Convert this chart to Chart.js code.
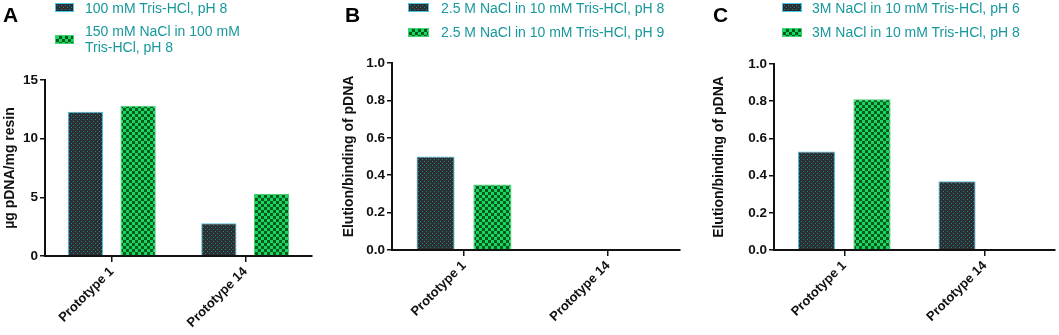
<!DOCTYPE html>
<html>
<head>
<meta charset="utf-8">
<script src="https://cdn.jsdelivr.net/npm/chart.js@4/dist/chart.umd.min.js"></script>
<style>
  body { margin: 0; background: #fff; }
  #wrap { position: relative; width: 1059px; height: 335px; overflow: hidden; font-family: "Liberation Sans", Arial, sans-serif; }
  canvas.chart { position: absolute; top: 0; }
  .letter { position: absolute; font-size: 21px; line-height: 21px; font-weight: bold; color: #000; }
  .sw { position: absolute; height: 9px; box-sizing: border-box; border: 1px solid; }
  .lt { position: absolute; font-size: 14px; line-height: 16px; color: #17989c; white-space: nowrap; }
</style>
</head>
<body>
<div id="wrap">
  <canvas class="chart" id="chartA" width="335" height="335" style="left:0"></canvas>
  <canvas class="chart" id="chartB" width="360" height="335" style="left:335px"></canvas>
  <canvas class="chart" id="chartC" width="359" height="335" style="left:700px"></canvas>

  <div class="letter" style="left:3px;top:4px">A</div>
  <div class="letter" style="left:345px;top:4px">B</div>
  <div class="letter" style="left:713px;top:4px">C</div>

  <div class="sw dark" style="left:55px;top:3px;width:19px"></div>
  <div class="lt" id="legA1" style="left:85px;top:0px"></div>
  <div class="sw green" style="left:55px;top:35px;width:19px"></div>
  <div class="lt" id="legA2" style="left:85px;top:23px"></div>

  <div class="sw dark" style="left:408px;top:3px;width:21px"></div>
  <div class="lt" id="legB1" style="left:441px;top:0px"></div>
  <div class="sw green" style="left:408px;top:28px;width:21px"></div>
  <div class="lt" id="legB2" style="left:441px;top:24px"></div>

  <div class="sw dark" style="left:782px;top:3px;width:20px"></div>
  <div class="lt" id="legC1" style="left:812px;top:0px"></div>
  <div class="sw green" style="left:782px;top:28px;width:20px"></div>
  <div class="lt" id="legC2" style="left:812px;top:24px"></div>
</div>
<script>
// data
const categories = ["Prototype 1", "Prototype 14"];

const seriesA1 = [12.3, 2.8];
const seriesA2 = [12.8, 5.3];
const seriesB1 = [0.50, 0];
const seriesB2 = [0.35, 0];
const seriesC1 = [0.53, 0.37];
const seriesC2 = [0.81, 0];

const legendA = ["100 mM Tris-HCl, pH 8", "150 mM NaCl in 100 mM<br>Tris-HCl, pH 8"];
const legendB = ["2.5 M NaCl in 10 mM Tris-HCl, pH 8", "2.5 M NaCl in 10 mM Tris-HCl, pH 9"];
const legendC = ["3M NaCl in 10 mM Tris-HCl, pH 6", "3M NaCl in 10 mM Tris-HCl, pH 8"];

const ticksA = [0, 5, 10, 15];
const ticksBC = [0, 0.2, 0.4, 0.6, 0.8, 1.0];

const FONT = '"Liberation Sans", Arial, sans-serif';

// patterns (dotted dark + green checker)
function makeTile(kind) {
    const c = document.createElement("canvas");
    if (kind === "dark") {
        c.width = 4; c.height = 4;
        const g = c.getContext("2d");
        g.fillStyle = "#2c2e30";
        g.fillRect(0, 0, 4, 4);
        g.fillStyle = "#1a8796";
        g.fillRect(1, 1, 1, 1);
        g.fillRect(3, 3, 1, 1);
    } else {
        c.width = 6; c.height = 6;
        const g = c.getContext("2d");
        g.fillStyle = "#0a5a20";
        g.fillRect(0, 0, 6, 6);
        g.fillStyle = "#16d860";
        g.fillRect(0, 0, 3, 3);
        g.fillRect(3, 3, 3, 3);
    }
    return c;
}
const darkTile = makeTile("dark");
const greenTile = makeTile("green");
const tmp = document.createElement("canvas").getContext("2d");
const darkPattern = tmp.createPattern(darkTile, "repeat");
const greenPattern = tmp.createPattern(greenTile, "repeat");

document.querySelectorAll(".sw.dark").forEach((el) => {
    el.style.backgroundImage = "url(" + darkTile.toDataURL() + ")";
    el.style.borderColor = "#45c6e6";
});
document.querySelectorAll(".sw.green").forEach((el) => {
    el.style.backgroundImage = "url(" + greenTile.toDataURL() + ")";
    el.style.borderColor = "#3ed36e";
});

document.getElementById("legA1").innerHTML = legendA[0];
document.getElementById("legA2").innerHTML = legendA[1];
document.getElementById("legB1").innerHTML = legendB[0];
document.getElementById("legB2").innerHTML = legendB[1];
document.getElementById("legC1").innerHTML = legendC[0];
document.getElementById("legC2").innerHTML = legendC[1];

function makeChart(id, s1, s2, cfg) {
    const ctx = document.getElementById(id).getContext("2d");
    return new Chart(ctx, {
        type: "bar",
        data: {
            labels: categories,
            datasets: [
                {
                    data: s1,
                    backgroundColor: darkPattern,
                    borderColor: "#45c6e6",
                    borderWidth: 1,
                    categoryPercentage: 0.79,
                    barPercentage: 0.67,
                },
                {
                    data: s2,
                    backgroundColor: greenPattern,
                    borderColor: "#3ed36e",
                    borderWidth: 1,
                    categoryPercentage: 0.79,
                    barPercentage: 0.67,
                },
            ],
        },
        options: {
            responsive: false,
            animation: false,
            layout: { padding: { top: cfg.top, right: cfg.right, left: 0, bottom: 0 } },
            plugins: { legend: { display: false }, tooltip: { enabled: false } },
            scales: {
                x: {
                    offset: true,
                    afterFit: (scale) => { scale.height = cfg.xHeight; },
                    border: { display: true, color: "#111", width: 2 },
                    grid: { offset: false, drawOnChartArea: false, drawTicks: true, tickLength: 6, color: "#111", lineWidth: 1.5 },
                    ticks: {
                        minRotation: 45,
                        maxRotation: 45,
                        color: "#111",
                        padding: 2,
                        font: { family: FONT, size: 13, weight: "bold" },
                    },
                },
                y: {
                    min: 0,
                    max: cfg.max,
                    afterFit: (scale) => { scale.width = cfg.yWidth; },
                    afterBuildTicks: (scale) => { scale.ticks = cfg.ticks.map((v) => ({ value: v })); },
                    border: { display: true, color: "#111", width: 2 },
                    grid: { drawOnChartArea: false, drawTicks: true, tickLength: 5, color: "#111", lineWidth: 1.5 },
                    ticks: {
                        color: "#111",
                        padding: 2,
                        font: { family: FONT, size: 13.5, weight: "bold" },
                        callback: (v) => cfg.fmt(v),
                    },
                    title: {
                        display: true,
                        text: cfg.title,
                        color: "#111",
                        padding: { top: cfg.titlePad, bottom: 0 },
                        font: { family: FONT, size: 14, weight: "bold" },
                    },
                },
            },
        },
    });
}

makeChart("chartA", seriesA1, seriesA2, {
    top: 80, right: 23, xHeight: 79, yWidth: 45, max: 15, ticks: ticksA,
    fmt: (v) => String(v), title: "\u00b5g pDNA/mg resin", titlePad: 2,
});
makeChart("chartB", seriesB1, seriesB2, {
    top: 63, right: 15, xHeight: 85, yWidth: 57, max: 1.0, ticks: ticksBC,
    fmt: (v) => v.toFixed(1), title: "Elution/binding of pDNA", titlePad: 6,
});
makeChart("chartC", seriesC1, seriesC2, {
    top: 64, right: 4, xHeight: 85, yWidth: 74, max: 1.0, ticks: ticksBC,
    fmt: (v) => v.toFixed(1), title: "Elution/binding of pDNA", titlePad: 11,
});
</script>
</body>
</html>
